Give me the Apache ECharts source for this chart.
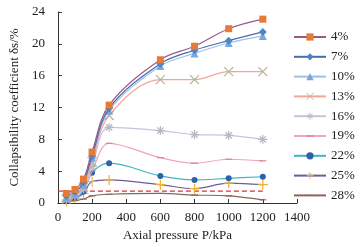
<!DOCTYPE html>
<html><head><meta charset="utf-8">
<script src="https://cdn.jsdelivr.net/npm/echarts@6/dist/echarts.min.js"></script>
<style>html,body{margin:0;padding:0;background:#fff}#c{width:362px;height:247px}</style>
</head><body><div id="c"></div>
<script>
var pressure = [50, 100, 150, 200, 300, 600, 800, 1000, 1200];
var names = ['4%', '7%', '10%', '13%', '16%', '19%', '22%', '25%', '28%'];
var s4  = [1.2, 1.7, 3.0, 6.4, 12.3, 18.0, 19.7, 21.9, 23.1];
var s7  = [0.9, 1.4, 2.6, 5.9, 11.9, 17.5, 19.2, 20.4, 21.5];
var s10 = [0.7, 1.2, 2.3, 5.7, 11.6, 17.2, 18.8, 20.1, 21.0];
var s13 = [0.5, 1.0, 2.0, 5.2, 11.0, 15.5, 15.5, 16.5, 16.5];
var s16 = [0.4, 0.9, 1.8, 4.6, 9.5, 9.1, 8.6, 8.5, 8.0];
var s19 = [0.3, 0.8, 1.6, 4.0, 7.5, 5.7, 5.0, 5.5, 5.3];
var s22 = [0.3, 0.7, 1.4, 3.8, 5.0, 3.4, 2.9, 3.1, 3.3];
var s25 = [0.2, 0.6, 1.2, 2.7, 2.9, 2.3, 1.8, 2.5, 2.3];
var s28 = [0.1, 0.3, 0.5, 0.9, 1.1, 1.2, 1.0, 0.9, 0.4];
var threshold = 1.5;
var thresholdRange = [0, 1200];

var allData = [s4, s7, s10, s13, s16, s19, s22, s25, s28];
var DASH = 'path://M0,0 M10,10 M0,4.2 L10,4.2 L10,5.8 L0,5.8 Z';
var styles = [
  {line:'#9a5a86', sym:'rect', size:7, fill:'#e67a36', border:null},
  {line:'#4a6aa8', sym:'diamond', size:8, fill:'#4a86c8', border:null},
  {line:'#9cc0e8', sym:'triangle', size:8, fill:'#7aa6dc', border:null},
  {line:'#f2a59c', sym:'path://M0,0 L10,10 M10,0 L0,10', size:9, fill:'none', border:'#b8b48e'},
  {line:'#c6c2e2', sym:'path://M0,5 L10,5 M5,0 L5,10 M1.5,1.5 L8.5,8.5 M8.5,1.5 L1.5,8.5', size:9, fill:'none', border:'#b8b8c0'},
  {line:'#f0a6b8', sym:DASH, size:7, fill:'#e07890', border:null},
  {line:'#3cb6c6', sym:'circle', size:6, fill:'#2e62a8', border:null},
  {line:'#6a5c9c', sym:'path://M5,0 L5,10 M0,5 L10,5', size:10, fill:'none', border:'#f0b030'},
  {line:'#8a6656', sym:DASH, size:7, fill:'#8a6656', border:null}
];

function toPairs(arr){ return pressure.map(function(p,i){ return [p, arr[i]]; }); }

var series = allData.map(function(d, i){
  var st = styles[i];
  var item = {color: st.fill === 'none' ? 'rgba(0,0,0,0)' : st.fill};
  if (st.border) { item.borderColor = st.border; item.borderWidth = 1.2; }
  return {
    name: names[i], type: 'line', smooth: 0.35,
    data: toPairs(d),
    symbol: st.sym, symbolSize: st.size,
    lineStyle: {color: st.line, width: 1.2},
    itemStyle: item,
    z: 10 - i
  };
});
series.push({
  name: 'threshold', type: 'line', symbol: 'none',
  data: thresholdRange.map(function(x){ return [x, threshold]; }),
  lineStyle: {color: '#e03030', width: 1.3, type: [5, 3]},
  silent: true, z: 1
});

var legendData = names.map(function(n, i){
  var st = styles[i];
  if (st.fill === 'none') {
    return {name: n, itemStyle: {color: 'rgba(0,0,0,0)', borderColor: st.border, borderWidth: 0.9}};
  }
  return {name: n};
});

var font = 'Liberation Serif';
var chart = echarts.init(document.getElementById('c'), null, {renderer: 'canvas'});
chart.setOption({
  animation: false,
  grid: {left: 46, right: 65, top: 12, bottom: 40},
  xAxis: {
    type: 'value', min: 0, max: 1400, interval: 200,
    name: 'Axial pressure P/kPa', nameLocation: 'middle', nameGap: 26,
    nameTextStyle: {fontFamily: font, fontSize: 13, color: '#222'},
    axisLine: {lineStyle: {color: '#333', width: 1}},
    axisTick: {inside: true, length: 4, lineStyle: {color: '#333'}},
    axisLabel: {fontFamily: font, fontSize: 13, color: '#222', margin: 8,
      formatter: function(v){ return String(v); }},
    splitLine: {show: false}
  },
  yAxis: {
    type: 'value', min: 0, max: 24, interval: 4,
    name: 'Collapsibility coefficient δs/%', nameLocation: 'middle', nameGap: 29,
    nameTextStyle: {fontFamily: font, fontSize: 13, color: '#222'},
    axisLine: {show: true, lineStyle: {color: '#333', width: 1}},
    axisTick: {show: true, inside: true, length: 4, lineStyle: {color: '#333'}},
    axisLabel: {fontFamily: font, fontSize: 13, color: '#222', margin: 13},
    splitLine: {show: false}
  },
  legend: {
    data: legendData, orient: 'vertical', left: 293, top: 30, padding: 0,
    itemWidth: 32, itemHeight: 9, itemGap: 5.8,
    textStyle: {fontFamily: font, fontSize: 13, color: '#222', lineHeight: 14}
  },
  series: series
});
</script></body></html>
